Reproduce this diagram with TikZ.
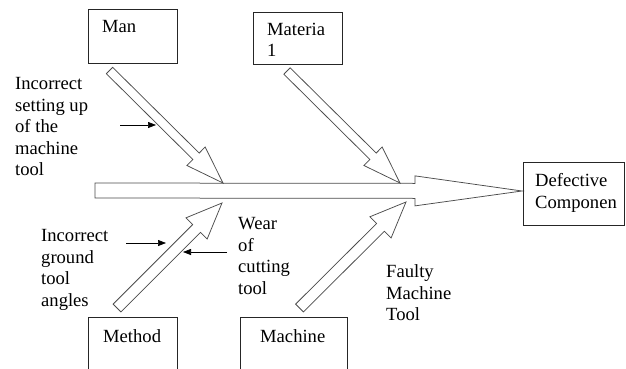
\documentclass[tikz,border=0pt]{standalone}
\usepackage{fontspec}
\setmainfont{Liberation Serif}
\newfontfamily\dgfont{Liberation Serif}
\usetikzlibrary{calc,arrows.meta}
\tikzset{
  box/.style={draw=black!85, line width=0.8pt, inner sep=0pt, fill=none},
  txt/.style={inner sep=0pt, align=left, font=\dgfont\fontsize{18.6}{21.5}\selectfont, text=black},
  fat/.style={draw=black!70, line width=0.75pt, fill=white, line join=miter},
  small/.style={draw=black, line width=0.7pt, -{Triangle[length=8pt,width=6pt]}}
}
\newcommand\fatarrow[5]{%
  \coordinate (hb) at ($(#2)!#5!(#1)$);
  \draw[fat] ($(#1)!#3!90:(#2)$) -- ($(hb)!#3!90:(#2)$) -- ($(hb)!#4!90:(#2)$) -- (#2)
    -- ($(hb)!#4!-90:(#2)$) -- ($(hb)!#3!-90:(#2)$) -- ($(#1)!#3!-90:(#2)$) -- cycle;}
\begin{document}
\begin{tikzpicture}[x=1pt,y=-1pt]
\useasboundingbox (0,0) rectangle (626,369);
% boxes
\node[box, minimum width=89pt, minimum height=54pt, anchor=north west] (man) at (88,9) {};
\node[box, minimum width=89pt, minimum height=52pt, anchor=north west] (material) at (253,12) {};
\node[box, minimum width=101pt, minimum height=63pt, anchor=north west] (defect) at (523,162) {};
\node[box, minimum width=89pt, minimum height=60pt, anchor=north west] (method) at (88,317) {};
\node[box, minimum width=107pt, minimum height=60pt, anchor=north west] (machine) at (240,317) {};
% box texts
\node[txt, anchor=base west] (tman) at (102,33) {Man};
\node[txt, anchor=north west] (tmat) at (267,22.6) {Materia\\1};
\node[txt, anchor=north west] (tdef) at (535,173.6) {Defective\\Componen};
\node[txt, anchor=base west] (tmeth) at (103,342) {Method};
\node[txt, anchor=base west] (tmach) at (260,342) {Machine};
% cause texts
\node[txt, anchor=north west] (tset) at (15,77.6) {Incorrect\\setting up\\of the\\machine\\tool};
\node[txt, anchor=north west] (tgr) at (41,229.6) {Incorrect\\ground\\tool\\angles};
\node[txt, anchor=north west] (twear) at (238,217.6) {Wear\\of\\cutting\\tool};
\node[txt, anchor=north west] (tfault) at (386,264.6) {Faulty\\Machine\\Tool};
% main arrow
\coordinate (mtail) at (95,190.5);
\coordinate (mtip) at (522,191);
\fatarrow{mtail}{mtip}{7.5pt}{15pt}{107pt}
% branch arrows
\coordinate (a1) at (109.5,70.5); \coordinate (b1) at (223,183);
\coordinate (a2) at (287,71);    \coordinate (b2) at (400,183);
\coordinate (a3) at (117,308);   \coordinate (b3) at (222,203);
\coordinate (a4) at (299.5,308); \coordinate (b4) at (406,202);
\fatarrow{a1}{b1}{4.5pt}{13pt}{38pt}
\fatarrow{a2}{b2}{4.5pt}{13pt}{38pt}
\fatarrow{a3}{b3}{5.5pt}{15pt}{36pt}
\fatarrow{a4}{b4}{5.5pt}{15pt}{36pt}
% small arrows
\coordinate (s1) at (120,125); \coordinate (e1) at (156,125);
\coordinate (s2) at (126,243); \coordinate (e2) at (166,243);
\coordinate (s3) at (227,252); \coordinate (e3) at (183,252);
\draw[small] (s1) -- (e1);
\draw[small] (s2) -- (e2);
\draw[small] (s3) -- (e3);
\end{tikzpicture}
\end{document}
